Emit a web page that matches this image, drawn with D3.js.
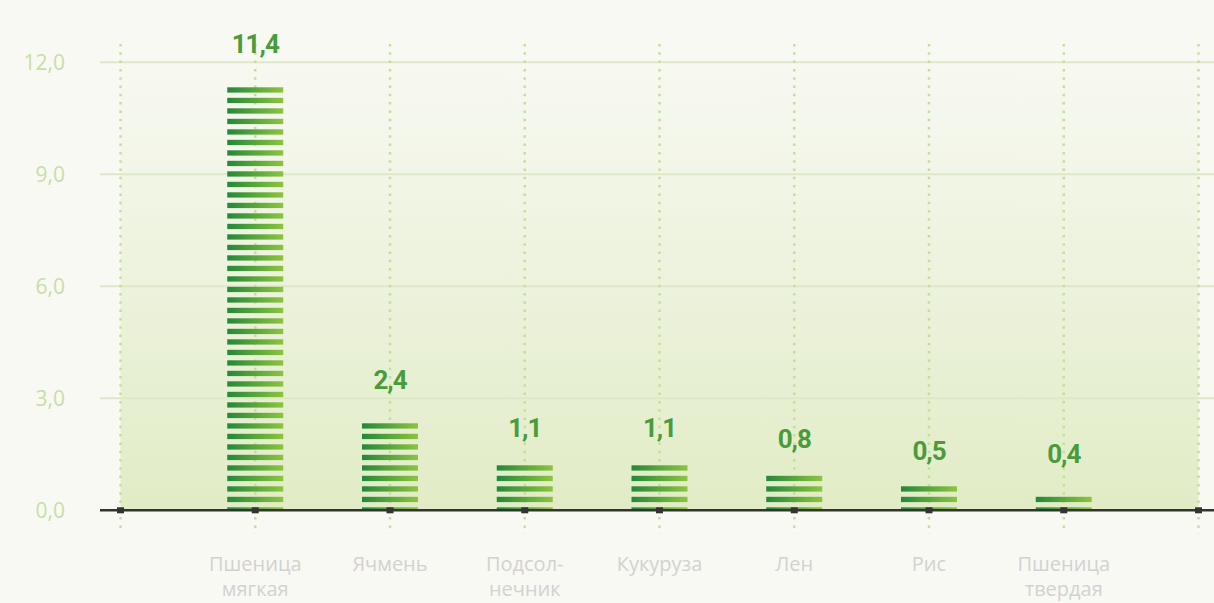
<!DOCTYPE html>
<html>
<head>
<meta charset="utf-8">
<script src="https://cdn.jsdelivr.net/npm/d3@7"></script>
<style>
  html, body { margin: 0; padding: 0; background: #f8f9f3; }
  svg { display: block; }
</style>
</head>
<body>
<div id="chart-area"></div>
<script>
// data
const categories = [["Пшеница", "мягкая"], ["Ячмень"], ["Подсол-", "нечник"], ["Кукуруза"], ["Лен"], ["Рис"], ["Пшеница", "твердая"]]
const values = [11.4, 2.4, 1.1, 1.1, 0.8, 0.5, 0.4]
const valueLabels = ["11,4", "2,4", "1,1", "1,1", "0,8", "0,5", "0,4"]
const yTicks = [0, 3, 6, 9, 12]

const WIDTH = 1214
const HEIGHT = 603

const svg = d3.select("#chart-area")
  .append("svg")
  .attr("width", WIDTH)
  .attr("height", HEIGHT)

const x = d3.scaleLinear().domain([0, categories.length + 1]).range([120.5, 1198.5])
const y = d3.scaleLinear().domain([0, 12]).range([510.3, 62.3])

const defs = svg.append("defs")

const bg = defs.append("linearGradient")
  .attr("id", "bg").attr("x1", 0).attr("y1", 0).attr("x2", 0).attr("y2", 1)
bg.append("stop").attr("offset", "0%").attr("stop-color", "#f8f9f3")
bg.append("stop").attr("offset", "100%").attr("stop-color", "#e1ecc6")

const barGrad = defs.append("linearGradient")
  .attr("id", "bar").attr("x1", 0).attr("y1", 0).attr("x2", 1).attr("y2", 0)
barGrad.append("stop").attr("offset", "0%").attr("stop-color", "#24873a")
barGrad.append("stop").attr("offset", "100%").attr("stop-color", "#8dc440")

// plot area background
svg.append("rect")
  .attr("x", x(0))
  .attr("y", y(12) - 18)
  .attr("width", x(categories.length + 1) - x(0))
  .attr("height", y(0) - y(12) + 18)
  .attr("fill", "url(#bg)")

// horizontal grid
svg.append("g")
  .selectAll("line")
  .data(yTicks.filter(d => d > 0))
  .enter().append("line")
  .attr("x1", 100).attr("x2", WIDTH)
  .attr("y1", d => y(d)).attr("y2", d => y(d))
  .attr("stroke", "#dde9c6")
  .attr("stroke-width", 2)

// vertical dotted lines
const vx = d3.range(categories.length + 2)
svg.append("g")
  .selectAll("line")
  .data(vx)
  .enter().append("line")
  .attr("x1", d => x(d)).attr("x2", d => x(d))
  .attr("y1", 44).attr("y2", 534)
  .attr("stroke", "#c3df9c")
  .attr("stroke-width", 2.5)
  .attr("stroke-dasharray", "2.5 5.8")

// y tick labels
svg.append("g")
  .selectAll("text")
  .data(yTicks)
  .enter().append("text")
  .attr("x", 65)
  .attr("y", d => y(d) + 7.5)
  .attr("text-anchor", "end")
  .attr("font-family", "Open Sans")
  .attr("font-size", "21px")
  .attr("fill", "#c7dfa4")
  .text(d => d3.format(".1f")(d).replace(".", ","))

// striped bars, stripes counted up from the baseline
const PERIOD = 10.5
const STRIPE = 5.3
const bars = svg.append("g")
  .selectAll("g")
  .data(values.map((v, i) => ({ v, i })))
  .enter().append("g")

bars.selectAll("rect")
  .data(b => {
    const first = y(0) - 3
    const n = Math.floor((first - (y(b.v) - 6)) / PERIOD) + 1
    return d3.range(n).map(k => ({ i: b.i, top: first - k * PERIOD }))
  })
  .enter().append("rect")
  .attr("x", d => x(d.i + 1) - 28)
  .attr("y", d => d.top)
  .attr("width", 56)
  .attr("height", d => Math.min(STRIPE, y(0) - d.top))
  .attr("fill", "url(#bar)")

// value labels
svg.append("g")
  .selectAll("text")
  .data(values)
  .enter().append("text")
  .attr("x", (d, i) => x(i + 1))
  .attr("y", d => y(d) - 32)
  .attr("text-anchor", "middle")
  .attr("font-family", "Roboto")
  .attr("font-weight", "bold")
  .attr("font-size", "26px")
  .attr("letter-spacing", "-1px")
  .attr("fill", "#4a9b3b")
  .text((d, i) => valueLabels[i])

// baseline axis
svg.append("line")
  .attr("x1", 100).attr("x2", WIDTH)
  .attr("y1", y(0)).attr("y2", y(0))
  .attr("stroke", "#333")
  .attr("stroke-width", 2.5)

svg.append("g")
  .selectAll("rect")
  .data(vx)
  .enter().append("rect")
  .attr("x", d => x(d) - 3.5)
  .attr("y", y(0) - 3)
  .attr("width", 7)
  .attr("height", 6)
  .attr("fill", "#333")

// category labels
const catText = svg.append("g")
  .selectAll("text")
  .data(categories)
  .enter().append("text")
  .attr("x", (d, i) => x(i + 1))
  .attr("y", 571)
  .attr("text-anchor", "middle")
  .attr("font-family", "Open Sans")
  .attr("font-size", "20px")
  .attr("fill", "#d2d2d0")

catText.selectAll("tspan")
  .data(d => d)
  .enter().append("tspan")
  .attr("x", function () { return d3.select(this.parentNode).attr("x") })
  .attr("dy", (d, j) => j === 0 ? 0 : 25)
  .text(d => d)
</script>
</body>
</html>
